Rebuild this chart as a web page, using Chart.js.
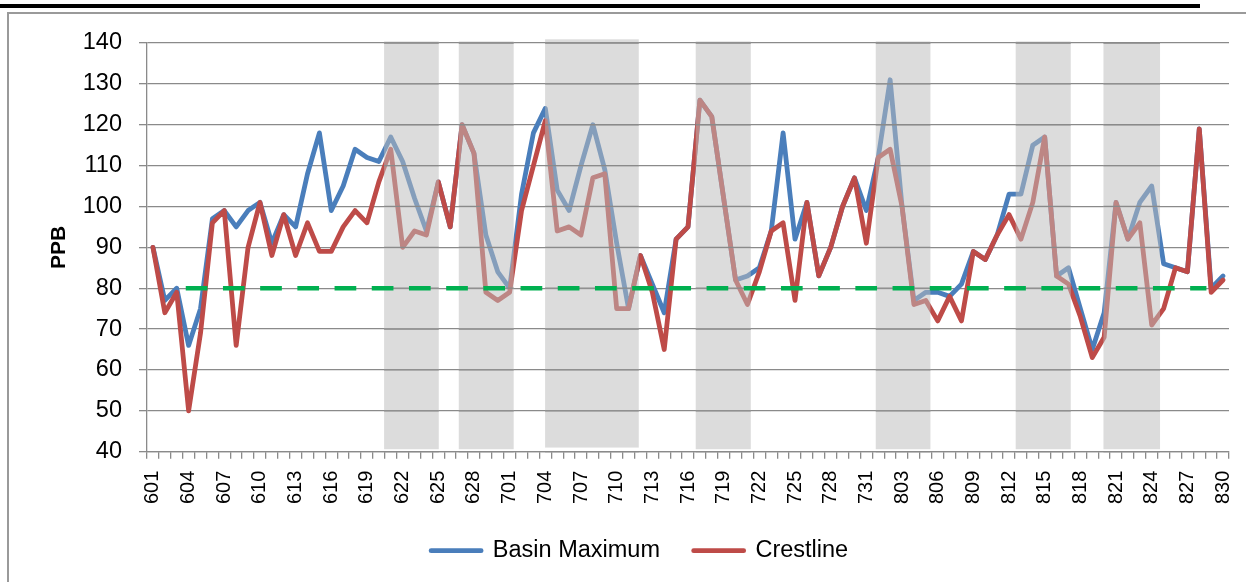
<!DOCTYPE html>
<html><head><meta charset="utf-8">
<script src="https://cdn.jsdelivr.net/npm/chart.js@4.4.0/dist/chart.umd.min.js"></script>
<style>
html,body{margin:0;padding:0;background:#fff;}
#wrap{position:relative;width:1246px;height:582px;overflow:hidden;background:#fff;}
#topbar{position:absolute;left:0;top:4px;width:1200px;height:4px;background:#000;}
#frame{position:absolute;left:7px;top:12px;width:1300px;height:700px;border-top:2px solid #9a9a9a;border-left:2px solid #9a9a9a;}
canvas{position:absolute;left:0;top:0;}
</style></head><body>
<div id="wrap"><div id="topbar"></div><div id="frame"></div><canvas id="c" width="1246" height="582"></canvas></div>
<script>
const categories = [
 '601','602','603','604','605','606','607','608','609','610','611','612','613','614','615','616','617','618','619','620','621','622','623','624','625','626','627','628','629','630',
 '701','702','703','704','705','706','707','708','709','710','711','712','713','714','715','716','717','718','719','720','721','722','723','724','725','726','727','728','729','730','731',
 '801','802','803','804','805','806','807','808','809','810','811','812','813','814','815','816','817','818','819','820','821','822','823','824','825','826','827','828','829','830'];
const basinMaximum = [
 90,77,80,66,75,97,99,95,99,101,91,98,95,108,118,99,105,114,112,111,117,111,102,94,106,95,120,113,93,84,
 80,103,118,124,104,99,110,120,109,91,75,88,81,74,92,95,126,122,102,82,83,85,94,118,92,101,83,90,100,107,99,
 112,131,100,77,79,79,78,81,89,87,93,103,103,115,117,83,85,75,65,74,101,92,101,105,86,85,84,119,80,83];
const crestline = [
 90,74,79,50,69,96,99,66,90,101,88,98,88,96,89,89,95,99,96,106,114,90,94,93,106,95,120,113,79,77,
 79,99,110,121,94,95,93,107,108,75,75,88,79,65,92,95,126,122,102,82,76,84,94,96,77,101,83,90,100,107,91,
 112,114,100,76,77,72,78,72,89,87,93,98,92,101,117,83,81,73,63,68,101,92,96,71,75,85,84,119,79,82];
const yMin = 40, yMax = 140, yStep = 10;
const threshold = 80;
const thresholdFrom = 2.76, thresholdTo = 88.6;
const bandStart  = [19.44, 25.72, 32.98, 45.65, 60.79, 72.56, 79.94];
const bandEnd    = [24.04, 30.34, 40.86, 50.28, 65.39, 77.19, 84.70];
const bandTop    = [140.4, 140.4, 140.9, 140.4, 140.4, 140.4, 140.0];
const bandBottom = [40.6, 40.6, 41.0, 40.6, 40.6, 40.6, 40.6];

const FONT = "'Liberation Sans', Arial, sans-serif";
const gridColor = '#8a8a8a';

const overlay = {
  id: 'overlay',
  afterDatasetsDraw(chart) {
    const {ctx, scales: {x, y}} = chart;
    ctx.save();
    ctx.fillStyle = 'rgba(188,188,188,0.52)';
    for (let i = 0; i < bandStart.length; i++) {
      const x0 = x.getPixelForValue(bandStart[i]), x1 = x.getPixelForValue(bandEnd[i]);
      const y0 = y.getPixelForValue(bandTop[i]), y1 = y.getPixelForValue(bandBottom[i]);
      ctx.fillRect(x0, y0, x1 - x0, y1 - y0);
    }
    ctx.strokeStyle = gridColor; ctx.lineWidth = 1.3;
    y.ticks.forEach(t => {
      const py = y.getPixelForValue(t.value);
      for (let i = 0; i < bandStart.length; i++) {
        ctx.beginPath();
        ctx.moveTo(x.getPixelForValue(bandStart[i]), py);
        ctx.lineTo(x.getPixelForValue(bandEnd[i]), py);
        ctx.stroke();
      }
    });
    ctx.setLineDash([21.7, 15.5]);
    ctx.strokeStyle = '#00B050'; ctx.lineWidth = 4.5; ctx.lineCap = 'butt';
    const ty = y.getPixelForValue(threshold);
    ctx.beginPath();
    ctx.moveTo(x.getPixelForValue(thresholdFrom), ty);
    ctx.lineTo(x.getPixelForValue(thresholdTo), ty);
    ctx.stroke();
    ctx.restore();
  }
};

new Chart(document.getElementById('c'), {
  type: 'line',
  data: {
    labels: categories,
    datasets: [
      {label: 'Basin Maximum', data: basinMaximum, borderColor: '#4A7EBB', backgroundColor: '#4A7EBB',
       borderWidth: 4.8, pointRadius: 0, pointHoverRadius: 0, tension: 0, order: 2,
       borderJoinStyle: 'round', borderCapStyle: 'round'},
      {label: 'Crestline', data: crestline, borderColor: '#BE4B48', backgroundColor: '#BE4B48',
       borderWidth: 4.8, pointRadius: 0, pointHoverRadius: 0, tension: 0, order: 1,
       borderJoinStyle: 'round', borderCapStyle: 'round'}
    ]
  },
  options: {
    responsive: false, animation: false, devicePixelRatio: 1,
    layout: {padding: {left: 50.25, right: 17, top: 43, bottom: 9.6}},
    plugins: {
      tooltip: {enabled: false},
      legend: {
        position: 'bottom',
        labels: {
          usePointStyle: true, pointStyle: 'line', pointStyleWidth: 50, padding: 33.65,
          color: '#000', font: {family: FONT, size: 23.5},
          sort: (a, b) => a.datasetIndex - b.datasetIndex,
          generateLabels(chart) {
            const items = Chart.defaults.plugins.legend.labels.generateLabels(chart);
            items.forEach(it => {
              const ds = chart.data.datasets[it.datasetIndex];
              it.lineWidth = ds.borderWidth; it.lineCap = 'round';
              it.strokeStyle = ds.borderColor; it.pointStyle = 'line';
            });
            return items;
          }
        }
      }
    },
    scales: {
      x: {
        offset: true,
        grid: {offset: true, drawOnChartArea: false, tickLength: 7, color: gridColor, lineWidth: 1.3},
        border: {color: gridColor, width: 1.3},
        ticks: {autoSkip: false, maxRotation: 90, minRotation: 90, padding: 12, color: '#000',
                font: {family: FONT, size: 20},
                callback: (v, i) => (i % 3 === 0 ? categories[i] : '')},
        afterFit(s) { s.height = 53.6; s.paddingLeft = 0; s.paddingRight = 0; }
      },
      y: {
        min: yMin, max: yMax,
        ticks: {stepSize: yStep, padding: 17, color: '#000', font: {family: FONT, size: 23.5}},
        grid: {color: gridColor, lineWidth: 1.3, tickLength: 8},
        border: {color: gridColor, width: 1.3},
        title: {display: true, text: 'PPB', color: '#000', font: {family: FONT, size: 21, weight: 'bold'},
                padding: {top: -4.1, bottom: 0}},
        afterFit(s) { s.width = 96.75; }
      }
    }
  },
  plugins: [overlay]
});
</script>
</body></html>
